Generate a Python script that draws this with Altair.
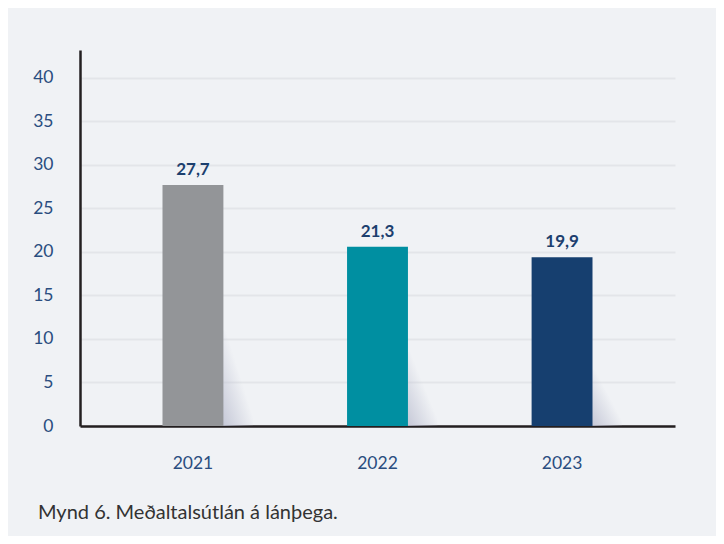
import altair as alt
import pandas as pd

years = ["2021", "2022", "2023"]
values = [27.7, 20.6, 19.4]
labels = ["27,7", "21,3", "19,9"]
colors = ["#939598", "#008fa1", "#163f6f"]
shadow = [11.0, 8.5, 6.5]
y_ticks = [0, 5, 10, 15, 20, 25, 30, 35, 40]

df = pd.DataFrame({"year": years, "value": values, "label": labels, "color": colors, "shadow": shadow})

FONT = "Lato"
BG = "#f0f2f5"
x = alt.X("year:N", sort=years, scale=alt.Scale(paddingInner=0.67, paddingOuter=0.447),
          axis=alt.Axis(title=None, labelAngle=0, labelFontSize=17.5, labelColor="#2a4d7f",
                        labelPadding=28, ticks=False, domainColor="#231f20", domainWidth=2.5,
                        labelFont=FONT, grid=False))
yscale = alt.Scale(domain=[0, 43.2], nice=False)

base = alt.Chart(df)

shadow_mark = base.mark_bar(
    width=30, xOffset=45,
    fill=alt.Gradient(gradient="linear", x1=0, y1=1, x2=1, y2=0,
                      stops=[alt.GradientStop(offset=0, color="rgba(190,193,210,0.85)"),
                             alt.GradientStop(offset=0.55, color="rgba(190,193,210,0)")])
).encode(x=x, y=alt.Y("shadow:Q", scale=yscale))

bars = base.mark_bar().encode(
    x=x,
    y=alt.Y("value:Q", scale=yscale,
            axis=alt.Axis(title=None, values=y_ticks, labelFontSize=17.5, labelColor="#2a4d7f",
                          labelPadding=27, ticks=False, domainColor="#231f20", domainWidth=2.5,
                          gridColor="#e3e5e9", gridWidth=2, labelFont=FONT)),
    color=alt.Color("color:N", scale=None),
)

text = base.mark_text(baseline="bottom", dy=-6, fontSize=17, fontWeight="bold",
                      color="#1c3f6e", font=FONT).encode(
    x=x, y=alt.Y("value:Q", scale=yscale), text="label:N")

chart = alt.layer(shadow_mark, bars, text).properties(
    width=595, height=376,
    background=BG,
    padding={"left": 72, "top": 42, "right": 41, "bottom": 110},
    autosize=alt.AutoSizeParams(type="none"),
    title=alt.TitleParams("Mynd 6. Meðaltalsútlán á lánþega.", orient="bottom", anchor="start",
                          frame="group", dx=-42, offset=31, fontSize=20, fontWeight="normal",
                          color="#333333", font=FONT),
).configure_view(stroke=None)

chart.save("out.html", embed_options={"renderer": "svg", "actions": False})
